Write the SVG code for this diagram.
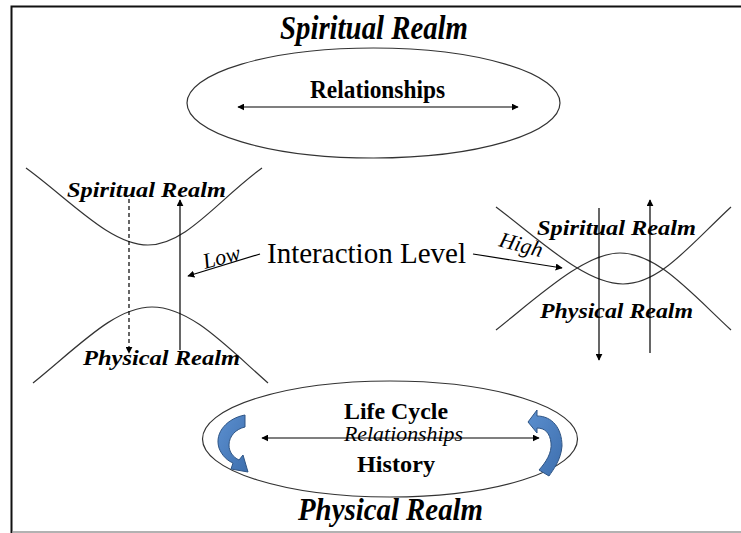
<svg xmlns="http://www.w3.org/2000/svg" width="741" height="533" viewBox="0 0 741 533">
<defs>
<marker id="ah" viewBox="0 0 10 10" refX="9" refY="5" markerWidth="7" markerHeight="7" markerUnits="userSpaceOnUse" orient="auto-start-reverse">
<path d="M0,0 L10,5 L0,10 Z" fill="#000"/>
</marker>
<linearGradient id="blue" x1="0" y1="0" x2="1" y2="1">
<stop offset="0" stop-color="#5b8fcf"/>
<stop offset="1" stop-color="#3e6fae"/>
</linearGradient>
</defs>
<style>
text{font-family:"Times New Roman","Liberation Serif",Tinos,"Nimbus Roman",serif;fill:#000}
.bi{font-weight:bold;font-style:italic}
.b{font-weight:bold}
.i{font-style:italic}
.curve{fill:none;stroke:#333;stroke-width:1.2}
.ell{fill:#fff;stroke:#333;stroke-width:1.2}
.arr{fill:none;stroke:#000;stroke-width:1.2;marker-end:url(#ah)}
.arr2{fill:none;stroke:#000;stroke-width:1.2;marker-end:url(#ah);marker-start:url(#ah)}
.dash{stroke-dasharray:4,3}
.curl{fill:url(#blue);stroke:#2f5585;stroke-width:1}
</style>
<rect width="741" height="533" fill="#fff"/>
<g id="frame">
<path d="M11.5,533 V6.5 H741" fill="none" stroke="#111" stroke-width="2"/>
<path d="M12,532 H741" fill="none" stroke="#999" stroke-width="1.5"/>
</g>

<g id="spiritual-top">
<text class="bi" x="280" y="39" font-size="33" textLength="188" lengthAdjust="spacingAndGlyphs">Spiritual Realm</text>
<ellipse class="ell" cx="373.5" cy="103" rx="186.5" ry="55"/>
<text class="b" x="310" y="98" font-size="25" textLength="135" lengthAdjust="spacingAndGlyphs">Relationships</text>
</g>

<g id="low-interaction">
<path class="curve" d="M26,168 C70,200 110,245 148,245 C186,245 218,200 262,168"/>
<path class="curve" d="M33,383 C80,345 115,307 152,307 C190,307 225,345 268,383"/>
<text class="bi" x="67" y="197" font-size="22" textLength="159" lengthAdjust="spacingAndGlyphs">Spiritual Realm</text>
<text class="bi" x="83" y="365" font-size="22" textLength="157" lengthAdjust="spacingAndGlyphs">Physical Realm</text>
</g>

<g id="interaction-level">
<text x="267" y="263" font-size="29" textLength="199" lengthAdjust="spacingAndGlyphs">Interaction Level</text>
<text class="i" x="0" y="0" font-size="22" transform="translate(205,269) rotate(-15)">Low</text>
<text class="i" x="0" y="0" font-size="22" transform="translate(498,246) rotate(15)">High</text>
</g>

<g id="high-interaction">
<path class="curve" d="M496,207 C540,240 585,284 623,284 C660,284 690,245 731,207"/>
<path class="curve" d="M496,330 C540,295 585,253 620,253 C657,253 690,292 731,330"/>
<text class="bi" x="537" y="235" font-size="22" textLength="159" lengthAdjust="spacingAndGlyphs">Spiritual Realm</text>
<text class="bi" x="540" y="318" font-size="22" textLength="153" lengthAdjust="spacingAndGlyphs">Physical Realm</text>
</g>

<g id="physical-bottom">
<ellipse class="ell" cx="390" cy="439" rx="187.5" ry="58"/>
<path class="curl" d="M245,415 C228,418 214,432 219,448 C222,456 228,461 233,463 L231,469 L248,472 L243,455 L239,460 C233,457 229,452 229,445 C229,436 236,429 245,427 Z"/>
<path class="curl" d="M528,422 L537,410 L537,416 C552,416 562,428 562,446 C561,460 553,470 549,476 L539,470 C546,462 552,453 551,443 C550,433 545,428 537,428 L537,433 Z"/>
<text class="b" x="344" y="419" font-size="23" textLength="104" lengthAdjust="spacingAndGlyphs">Life Cycle</text>
<text class="i" x="344" y="441" font-size="20" textLength="119" lengthAdjust="spacingAndGlyphs">Relationships</text>
<text class="b" x="357" y="472" font-size="23" textLength="78" lengthAdjust="spacingAndGlyphs">History</text>
<text class="bi" x="298" y="520" font-size="32" textLength="185" lengthAdjust="spacingAndGlyphs">Physical Realm</text>
</g>

<g id="connectors">
<path class="arr2" d="M238,107 H518"/>
<path class="arr dash" d="M129,199 V353"/>
<path class="arr" d="M180,350 V200"/>
<path class="arr" d="M260,254 L188,276"/>
<path class="arr" d="M473,254 L562,268"/>
<path class="arr" d="M599,208 V360"/>
<path class="arr" d="M650,353 V200"/>
<path class="arr2" d="M262,438 H539"/>
</g>
</svg>
